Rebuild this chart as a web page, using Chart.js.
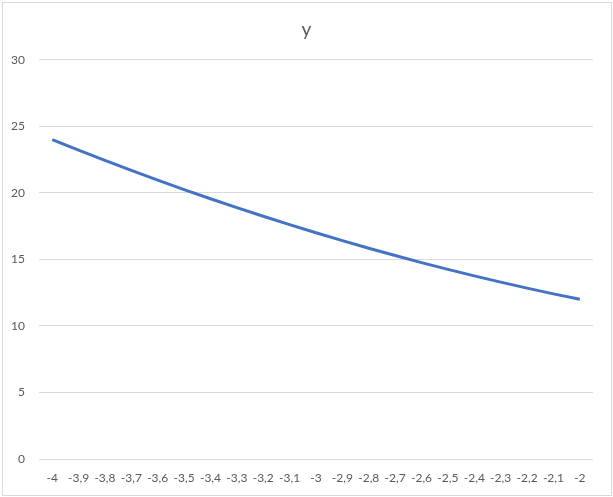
<!DOCTYPE html>
<html><head><meta charset="utf-8">
<script src="https://cdn.jsdelivr.net/npm/chart.js@4"></script>
<style>html,body{margin:0;padding:0;background:#fff}#wrap{width:613px;height:497px;position:relative}</style>
</head><body><div id="wrap"><canvas id="c" width="613" height="497"></canvas></div>
<script>
const categories = ['-4','-3,9','-3,8','-3,7','-3,6','-3,5','-3,4','-3,3','-3,2','-3,1','-3','-2,9','-2,8','-2,7','-2,6','-2,5','-2,4','-2,3','-2,2','-2,1','-2'];
const yValues = [24, 23.21, 22.44, 21.69, 20.96, 20.25, 19.56, 18.89, 18.24, 17.61, 17, 16.41, 15.84, 15.29, 14.76, 14.25, 13.76, 13.29, 12.84, 12.41, 12];
const seriesName = 'y';
const yTicks = [0, 5, 10, 15, 20, 25, 30];

const framePlugin = {
  id: 'frame',
  afterLayout(chart) {
    const t = chart.titleBlock;
    if (t) { t.left = 0; t.right = chart.width; t.width = chart.width; }
  },
  beforeDraw(chart) {
    const ctx = chart.ctx;
    ctx.save();
    ctx.fillStyle = '#ffffff';
    ctx.fillRect(0, 0, chart.width, chart.height);
    ctx.strokeStyle = '#d9d9d9';
    ctx.lineWidth = 1;
    ctx.strokeRect(2.5, 2.5, 609, 493);
    ctx.restore();
  }
};

new Chart(document.getElementById('c'), {
  type: 'line',
  data: {
    labels: categories,
    datasets: [{
      label: seriesName,
      data: yValues,
      borderColor: '#4472C4',
      borderWidth: 3,
      pointRadius: 0,
      tension: 0,
      fill: false
    }]
  },
  options: {
    responsive: false,
    animation: false,
    layout: { padding: { left: 0, right: 20, top: 0, bottom: 0 } },
    plugins: {
      legend: { display: false },
      tooltip: { enabled: false },
      title: {
        display: true,
        text: seriesName,
        color: '#595959',
        font: { family: 'Lato', size: 19, weight: 'normal' },
        padding: { top: 18, bottom: 19 }
      }
    },
    scales: {
      x: {
        offset: true,
        grid: { display: false, drawTicks: false },
        border: { display: false },
        ticks: {
          color: '#595959',
          font: { family: 'Lato', size: 12 },
          padding: 12,
          maxRotation: 0,
          autoSkip: false
        },
        afterFit(s) { s.height = 38; }
      },
      y: {
        min: 0,
        max: 30,
        afterBuildTicks(s) { s.ticks = yTicks.map(v => ({ value: v })); },
        grid: { color: '#d9d9d9', drawTicks: false, lineWidth: 1 },
        border: { display: false },
        ticks: {
          color: '#595959',
          font: { family: 'Lato', size: 12 },
          padding: 14
        },
        afterFit(s) { s.width = 39; }
      }
    }
  },
  plugins: [framePlugin]
});
</script>
</body></html>
